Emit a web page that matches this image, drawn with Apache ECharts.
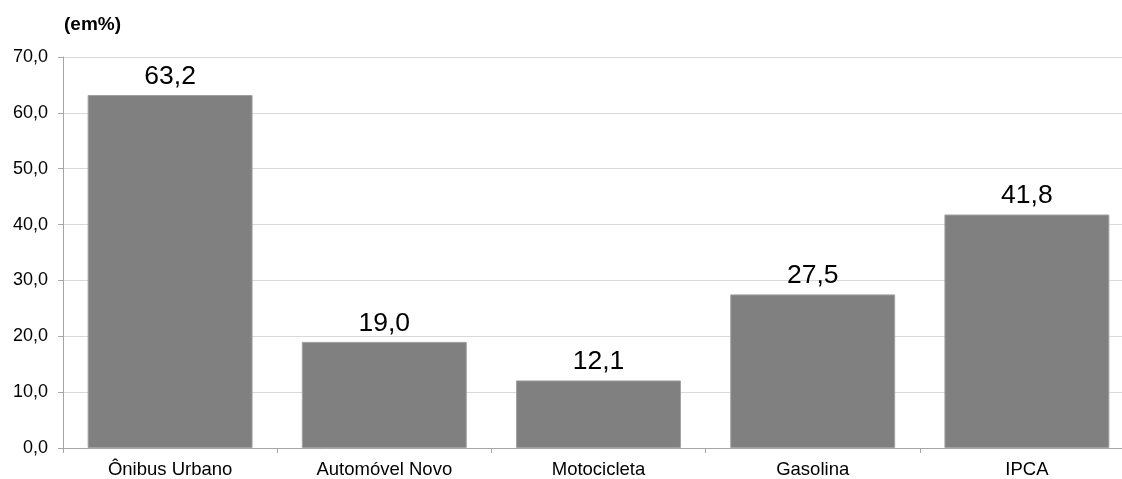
<!DOCTYPE html>
<html>
<head>
<meta charset="utf-8">
<style>
  html, body { margin: 0; padding: 0; background: #fff; }
  #chart { width: 1122px; height: 479px; }
</style>
<script src="https://cdn.jsdelivr.net/npm/echarts@6/dist/echarts.min.js"></script>
</head>
<body>
<div id="chart"></div>
<script>
// Variação acumulada (em%)
const categories = ['Ônibus Urbano', 'Automóvel Novo', 'Motocicleta', 'Gasolina', 'IPCA'];
const values = [63.2, 19.0, 12.1, 27.5, 41.8];
const yTicks = [0, 10, 20, 30, 40, 50, 60, 70];

const fmt = v => v.toFixed(1).replace('.', ',');
const font = 'Liberation Sans, Arial, sans-serif';

const chart = echarts.init(document.getElementById('chart'), null, { renderer: 'canvas' });
chart.setOption({
  animation: false,
  backgroundColor: '#ffffff',
  title: {
    text: '(em%)',
    left: 59,
    top: 10,
    textStyle: { fontFamily: font, fontSize: 19, fontWeight: 'bold', color: '#000' }
  },
  grid: {
    left: 63, top: 57, width: 1071, height: 391,
    containLabel: false, outerBoundsMode: 'none'
  },
  xAxis: {
    type: 'category',
    data: categories,
    axisLine: { lineStyle: { color: '#a6a6a6', width: 1 } },
    axisTick: { show: true, length: 5, lineStyle: { color: '#a6a6a6' } },
    axisLabel: { fontFamily: font, fontSize: 18.5, color: '#000', margin: 12 }
  },
  yAxis: {
    type: 'value',
    min: yTicks[0],
    max: yTicks[yTicks.length - 1],
    interval: 10,
    axisLine: { show: true, lineStyle: { color: '#a6a6a6', width: 1 } },
    axisTick: { show: true, length: 5, lineStyle: { color: '#a6a6a6' } },
    splitLine: { lineStyle: { color: '#d9d9d9', width: 1 } },
    axisLabel: { fontFamily: font, fontSize: 18, color: '#000', margin: 15, formatter: fmt }
  },
  series: [{
    type: 'bar',
    data: values,
    barCategoryGap: '23%',
    itemStyle: { color: '#808080', borderColor: '#a0a0a0', borderWidth: 1 },
    label: {
      show: true,
      position: 'top',
      distance: 5,
      fontFamily: font,
      fontSize: 26.5,
      color: '#000',
      formatter: p => fmt(p.value)
    }
  }]
});
</script>
</body>
</html>
